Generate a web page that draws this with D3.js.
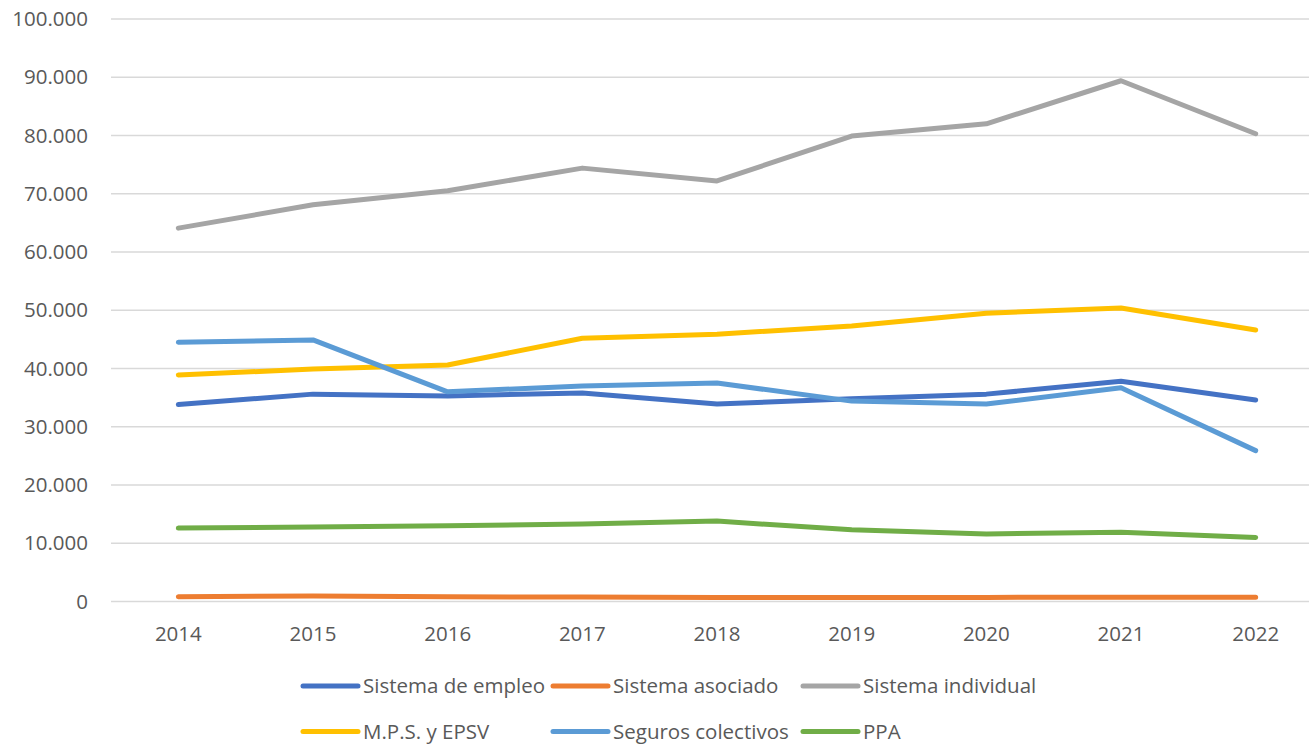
<!DOCTYPE html>
<html>
<head>
<meta charset="utf-8">
<script src="https://cdn.jsdelivr.net/npm/d3@7"></script>
<style>
  body { margin: 0; background: #fff; }
  svg { display: block; font-family: 'Open Sans', 'Noto Sans', sans-serif; }
</style>
</head>
<body>
<div id="chart"></div>
<script>
const years = ['2014', '2015', '2016', '2017', '2018', '2019', '2020', '2021', '2022']
const yTicks = [0, 10000, 20000, 30000, 40000, 50000, 60000, 70000, 80000, 90000, 100000]

const seriesNames = ['Sistema de empleo', 'Sistema asociado', 'Sistema individual', 'M.P.S. y EPSV', 'Seguros colectivos', 'PPA']
const seriesColors = ['#4472C4', '#ED7D31', '#A5A5A5', '#FFC000', '#5B9BD5', '#70AD47']

const empleo = [33800, 35600, 35300, 35800, 33900, 34800, 35600, 37800, 34600]
const asociado = [820, 950, 800, 780, 700, 700, 700, 750, 750]
const individual = [64100, 68100, 70500, 74400, 72200, 79900, 82000, 89400, 80300]
const mps = [38900, 39900, 40600, 45200, 45900, 47300, 49500, 50400, 46600]
const seguros = [44500, 44900, 36000, 37000, 37500, 34400, 33900, 36700, 25900]
const ppa = [12600, 12800, 13000, 13300, 13800, 12300, 11600, 11900, 11000]

const seriesValues = [empleo, asociado, individual, mps, seguros, ppa]

const width = 1309
const height = 744

const svg = d3.select('#chart')
  .append('svg')
  .attr('width', width)
  .attr('height', height)

const x = d3.scaleBand()
  .domain(years)
  .range([111, 1323])

const y = d3.scaleLinear()
  .domain([0, 100000])
  .range([601.5, 19])

const fmt = (v) => d3.format(',')(v).replace(/,/g, '.')

// gridlines
svg.append('g')
  .selectAll('line')
  .data(yTicks)
  .enter()
  .append('line')
  .attr('x1', 111)
  .attr('x2', width)
  .attr('y1', (d) => y(d))
  .attr('y2', (d) => y(d))
  .attr('stroke', '#D9D9D9')
  .attr('stroke-width', 1.5)

// y labels
svg.append('g')
  .selectAll('text')
  .data(yTicks)
  .enter()
  .append('text')
  .attr('x', 88)
  .attr('y', (d) => y(d))
  .attr('dy', '0.35em')
  .attr('text-anchor', 'end')
  .attr('fill', '#595959')
  .attr('font-size', 20.5)
  .text(fmt)

// x labels
svg.append('g')
  .selectAll('text')
  .data(years)
  .enter()
  .append('text')
  .attr('x', (d) => x(d) + x.bandwidth() / 2)
  .attr('y', 641)
  .attr('text-anchor', 'middle')
  .attr('fill', '#595959')
  .attr('font-size', 20.5)
  .text((d) => d)

const line = d3.line()
  .x((d, i) => x(years[i]) + x.bandwidth() / 2)
  .y((d) => y(d))

svg.append('g')
  .selectAll('path')
  .data(seriesValues)
  .enter()
  .append('path')
  .attr('d', line)
  .attr('fill', 'none')
  .attr('stroke', (d, i) => seriesColors[i])
  .attr('stroke-width', 5)
  .attr('stroke-linecap', 'round')
  .attr('stroke-linejoin', 'round')

// legend, 3 columns x 2 rows
const legend = svg.append('g')
  .selectAll('g')
  .data(seriesNames)
  .enter()
  .append('g')
  .attr('transform', (d, i) => `translate(${303 + (i % 3) * 250}, ${i < 3 ? 686 : 731.5})`)

legend.append('line')
  .attr('x1', 0)
  .attr('x2', 55)
  .attr('stroke', (d, i) => seriesColors[i])
  .attr('stroke-width', 5)
  .attr('stroke-linecap', 'round')

legend.append('text')
  .attr('x', 60)
  .attr('dy', '0.35em')
  .attr('fill', '#595959')
  .attr('font-size', 20.5)
  .text((d) => d)
</script>
</body>
</html>
